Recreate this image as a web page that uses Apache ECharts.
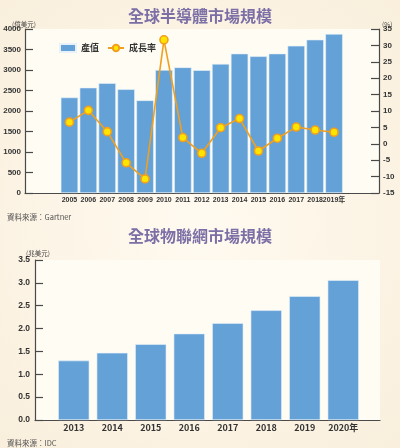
<!DOCTYPE html>
<html><head><meta charset="utf-8">
<script src="https://cdn.jsdelivr.net/npm/echarts@6/dist/echarts.min.js"></script>
<style>html,body{margin:0;padding:0;background:#faf1df;}#c{width:400px;height:448px;}</style>
</head><body><div id="c"></div>
<script>
var semiYears = ['2005','2006','2007','2008','2009','2010','2011','2012','2013','2014','2015','2016','2017','2018','2019年'];
var semiValue = [2330,2570,2680,2530,2260,3000,3065,2995,3150,3400,3335,3400,3590,3740,3880];
var semiGrowth = [6.6,10.2,3.7,-5.8,-10.7,31.7,1.9,-2.9,4.9,7.7,-2.2,1.7,5.1,4.2,3.5];
var iotYears = ['2013','2014','2015','2016','2017','2018','2019','2020年'];
var iotValue = [1.30,1.47,1.66,1.89,2.12,2.40,2.71,3.06];

var FONT = '"Noto Sans CJK TC","Noto Sans",sans-serif';
var NARROW = '"Liberation Sans Narrow","Liberation Sans","Noto Sans CJK TC",sans-serif';
var axisColor = '#4a4a4a';
var chart = echarts.init(document.getElementById('c'), null, {renderer:'canvas'});
chart.setOption({
  backgroundColor: {type:'radial', x:0.5, y:0.5, r:0.8, colorStops:[{offset:0,color:'#fffaf0'},{offset:1,color:'#f9eedb'}]},
  animation:false,
  title:[
    {text:'全球半導體市場規模', left:'center', top:3, textStyle:{fontFamily:FONT, fontSize:16, fontWeight:'bold', color:'#7b6fa6'}},
    {text:'全球物聯網市場規模', left:'center', top:223, textStyle:{fontFamily:FONT, fontSize:16, fontWeight:'bold', color:'#7b6fa6'}},
    {text:'(億美元)', left:7, top:16, textStyle:{fontFamily:FONT, fontSize:6.5, fontWeight:'normal', color:'#444'}},
    {text:'(%)', left:377, top:16, textStyle:{fontFamily:FONT, fontSize:6.5, fontWeight:'normal', color:'#444'}},
    {text:'(兆美元)', left:21, top:245, textStyle:{fontFamily:FONT, fontSize:6.5, fontWeight:'normal', color:'#444'}},
    {text:'資料來源：Gartner', left:2, top:208, textStyle:{fontFamily:FONT, fontSize:7.5, fontWeight:'normal', color:'#555'}},
    {text:'資料來源：IDC', left:2, top:434, textStyle:{fontFamily:FONT, fontSize:7.5, fontWeight:'normal', color:'#555'}}
  ],
  legend:{left:54, top:38, itemWidth:16, itemHeight:8, itemGap:8,
    textStyle:{fontFamily:FONT, fontSize:9, fontWeight:'bold', color:'#333'},
    data:[{name:'產值', icon:'rect'}, {name:'成長率'}]},
  grid:[
    {left:25, right:21, top:29, bottom:255, show:true, backgroundColor:'#fffcf3', borderWidth:0},
    {left:60, right:56.5, top:29, bottom:255},
    {left:35, right:20, top:260, bottom:28, show:true, backgroundColor:'#fffcf3', borderWidth:0},
    {left:54.5, right:37.5, top:260, bottom:28}
  ],
  xAxis:[
    {gridIndex:0, type:'value', min:0, max:1, axisLine:{show:true, lineStyle:{color:axisColor, width:1.2}}, axisTick:{show:false}, axisLabel:{show:false}, splitLine:{show:false}},
    {gridIndex:1, type:'category', data:semiYears, axisLine:{show:false}, axisTick:{show:false},
      axisLabel:{interval:0, margin:4, color:'#333', fontSize:7, fontWeight:'bold', fontFamily:NARROW}},
    {gridIndex:2, type:'value', min:0, max:1, axisLine:{show:true, lineStyle:{color:axisColor, width:1.2}}, axisTick:{show:false}, axisLabel:{show:false}, splitLine:{show:false}},
    {gridIndex:3, type:'category', data:iotYears, axisLine:{show:false}, axisTick:{show:false},
      axisLabel:{interval:0, margin:3, color:'#333', fontSize:9, fontWeight:'bold', fontFamily:FONT}}
  ],
  yAxis:[
    {gridIndex:0, type:'value', show:false, min:0, max:1},
    {gridIndex:1, type:'value', min:0, max:4000, interval:500, offset:35, position:'left',
      axisLine:{show:true, lineStyle:{color:axisColor, width:1.2}},
      axisTick:{show:true, inside:true, length:8, lineStyle:{color:axisColor, width:1.2}},
      axisLabel:{margin:4, color:'#333', fontSize:8, fontWeight:'bold', fontFamily:'"Liberation Sans",sans-serif',
        formatter:function(v){return String(v);}}, splitLine:{show:false}},
    {gridIndex:1, type:'value', min:-15, max:35, interval:5, offset:35.5, position:'right',
      axisLine:{show:true, lineStyle:{color:axisColor, width:1.2}},
      axisTick:{show:true, inside:true, length:8, lineStyle:{color:axisColor, width:1.2}},
      axisLabel:{margin:4, color:'#333', fontSize:8, fontWeight:'bold', fontFamily:'"Liberation Sans",sans-serif'}, splitLine:{show:false}},
    {gridIndex:2, type:'value', show:false, min:0, max:1},
    {gridIndex:3, type:'value', min:0, max:3.5, interval:0.5, offset:19.5, position:'left',
      axisLine:{show:true, lineStyle:{color:axisColor, width:1.2}},
      axisTick:{show:true, inside:true, length:8, lineStyle:{color:axisColor, width:1.2}},
      axisLabel:{margin:5, color:'#333', fontSize:8.5, fontWeight:'bold', fontFamily:'"Liberation Sans",sans-serif',
        formatter:function(v){return v.toFixed(1);}}, splitLine:{show:false}}
  ],
  series:[
    {name:'產值', type:'bar', xAxisIndex:1, yAxisIndex:1, data:semiValue, barCategoryGap:'8%',
      itemStyle:{color:'#64a1d7', borderColor:'#e8f1fa', borderWidth:0.6}},
    {name:'成長率', type:'line', xAxisIndex:1, yAxisIndex:2, data:semiGrowth, symbol:'circle', symbolSize:8,
      lineStyle:{color:'#f0a01e', width:1.6},
      itemStyle:{color:'#ffe400', borderColor:'#f0a01e', borderWidth:1.6}, z:5},
    {name:'物聯網', type:'bar', xAxisIndex:3, yAxisIndex:4, data:iotValue, barCategoryGap:'19%',
      itemStyle:{color:'#64a1d7', borderColor:'#e8f1fa', borderWidth:0.6}}
  ]
});
</script></body></html>
